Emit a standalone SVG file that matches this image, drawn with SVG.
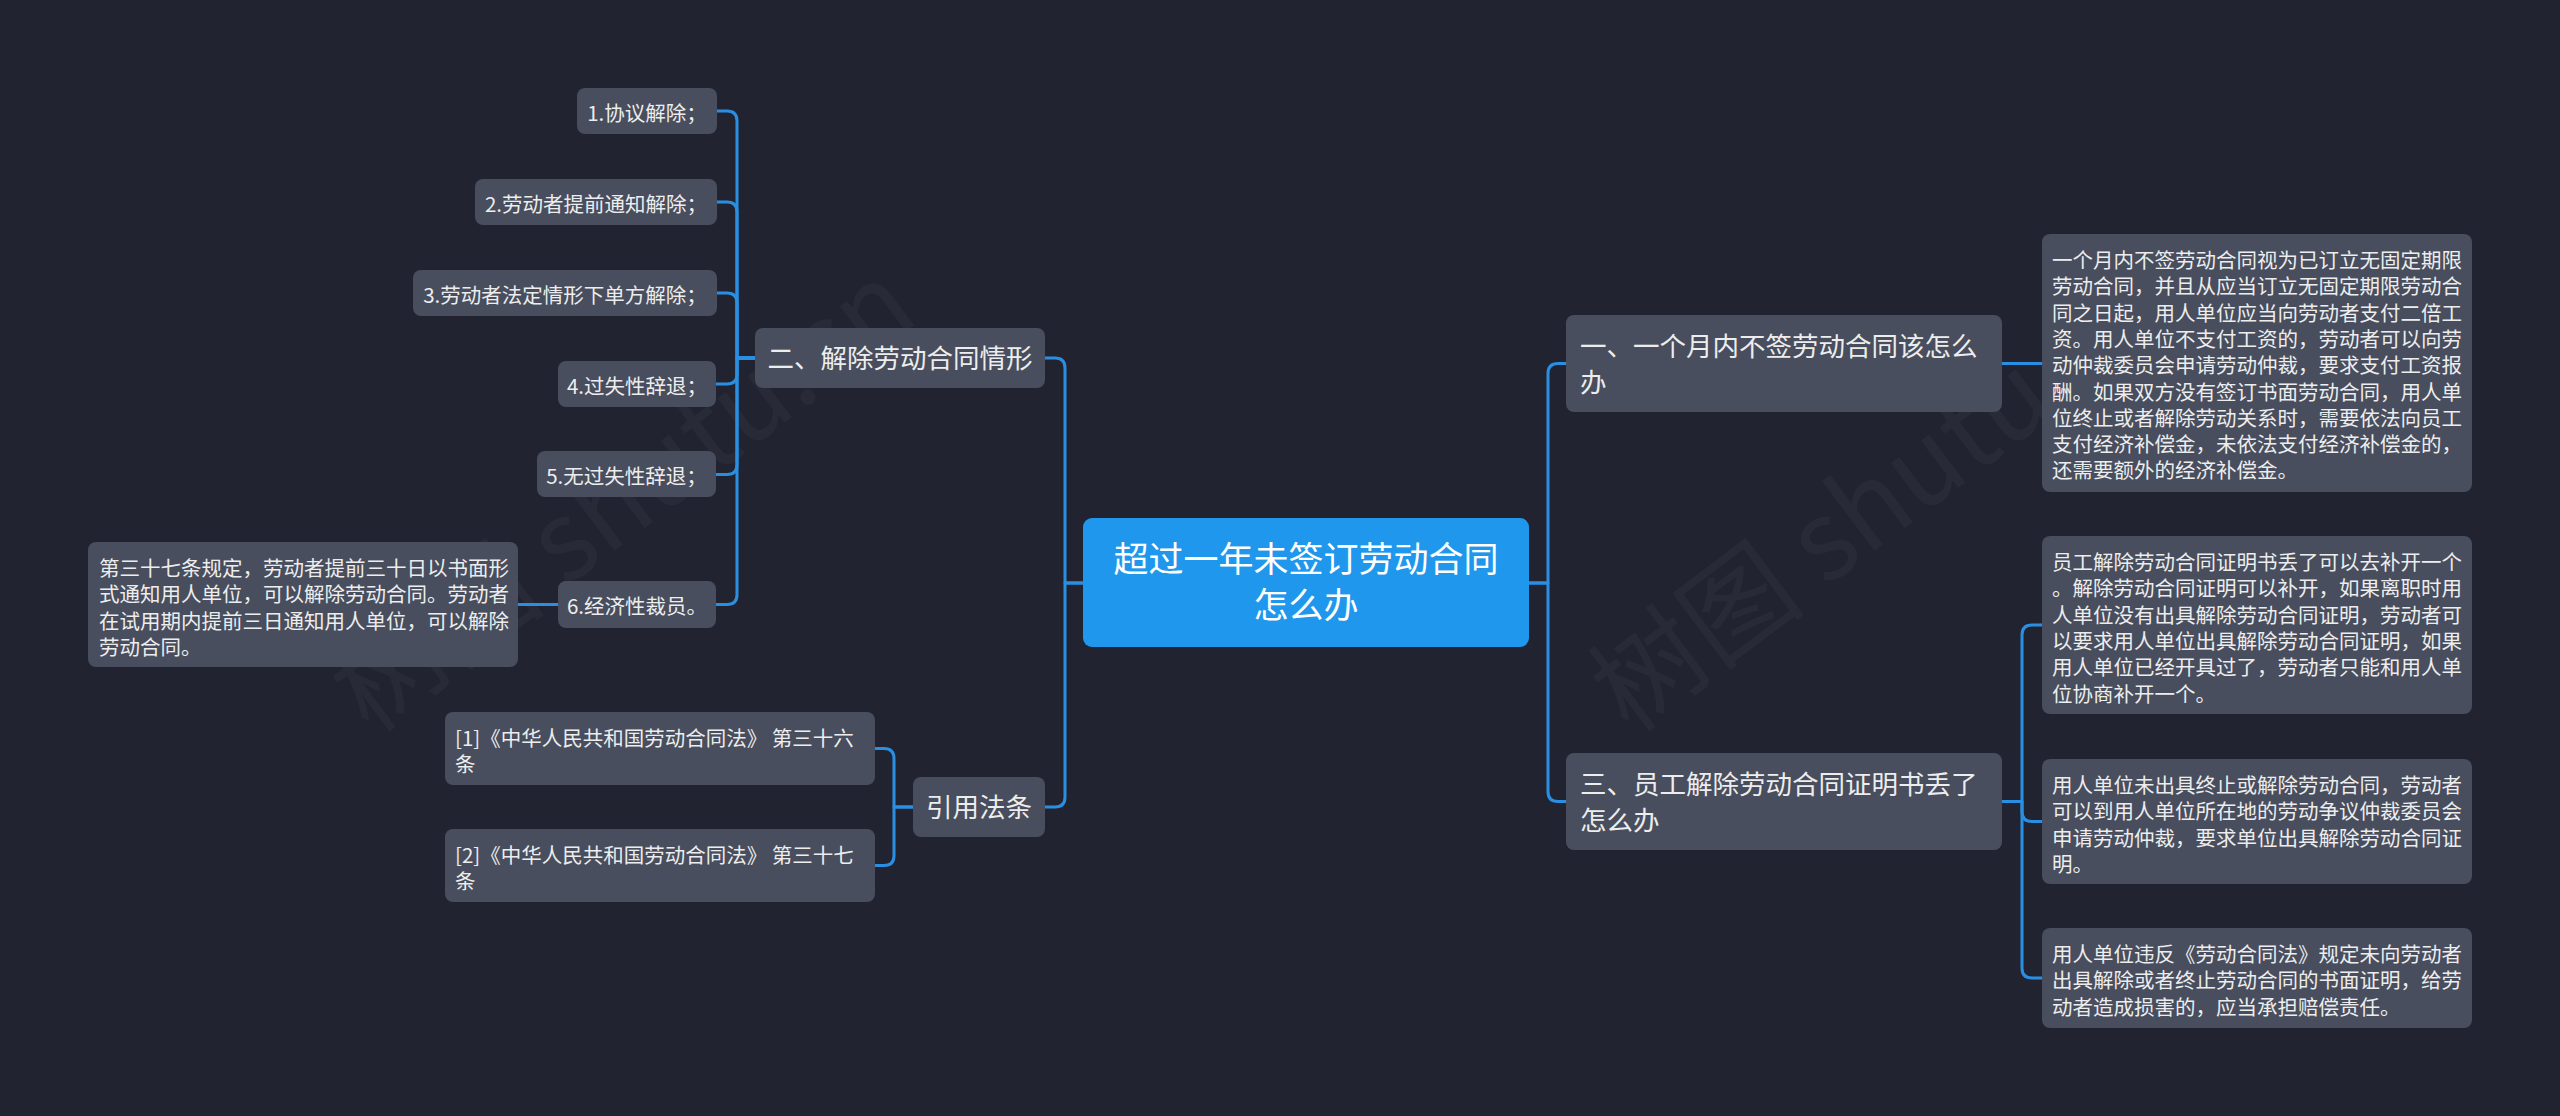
<svg xmlns="http://www.w3.org/2000/svg" width="2560" height="1116" viewBox="0 0 2560 1116">
<style>
.bg{fill:#212430}
.box{fill:#484e5d}
.root{fill:#1e97ec}
.t{fill:#ededed;font-family:"Noto Sans CJK SC","Noto Sans",sans-serif}
.s{font-size:20.5px}
.m{font-size:26.5px}
.r{font-size:35px;fill:#ffffff}
.c{text-anchor:middle}
.conn path{fill:none;stroke:#2a8fe3;stroke-width:3;stroke-linecap:round;stroke-linejoin:round}
.wm{font-family:"Noto Sans CJK SC","Noto Sans",sans-serif;font-size:110px;fill:#ffffff;opacity:0.03}
</style>
<rect class="bg" x="0" y="0" width="2560" height="1116"/>
<g id="watermarks">
<text class="wm" transform="translate(370,735) rotate(-37)">树图 shutu.cn</text>
<text class="wm" transform="translate(1630,735) rotate(-37)">树图 shutu.cn</text>
</g>
<g id="connectors" class="conn">
<path d="M1083,583 H1065 V368 Q1065,358 1055,358 H1045"/>
<path d="M1083,583 H1065 V797 Q1065,807 1055,807 H1045"/>
<path d="M1529,583 H1548 V373.5 Q1548,363.5 1558,363.5 H1566"/>
<path d="M1529,583 H1548 V791.5 Q1548,801.5 1558,801.5 H1566"/>
<path d="M755,358 H737 V121 Q737,111 727,111 H717"/>
<path d="M755,358 H737 V212 Q737,202 727,202 H717"/>
<path d="M755,358 H737 V303 Q737,293 727,293 H717"/>
<path d="M755,358 H737 V374 Q737,384 727,384 H716"/>
<path d="M755,358 H737 V464.5 Q737,474.5 727,474.5 H716"/>
<path d="M755,358 H737 V594.5 Q737,604.5 727,604.5 H716"/>
<path d="M558,604.5 H518"/>
<path d="M913,807 H894 V758.5 Q894,748.5 884,748.5 H875"/>
<path d="M913,807 H894 V855.5 Q894,865.5 884,865.5 H875"/>
<path d="M2002,363.5 H2042"/>
<path d="M2002,801.5 H2022 V635 Q2022,625 2032,625 H2042"/>
<path d="M2002,801.5 H2022 V811.5 Q2022,821.5 2032,821.5 H2042"/>
<path d="M2002,801.5 H2022 V968 Q2022,978 2032,978 H2042"/>
</g>
<g id="root">
<rect class="root" x="1083" y="518" width="446" height="129" rx="9"/>
<text class="t r c" x="1306" y="572">超过一年未签订劳动合同</text>
<text class="t r c" x="1306" y="618">怎么办</text>
</g>
<g id="n2">
<rect class="box" x="755" y="328" width="290" height="60" rx="8"/>
<text class="t m c" x="900" y="368">二、解除劳动合同情形</text>
</g>
<g id="n2-1">
<rect class="box" x="577" y="88" width="140" height="46" rx="8"/>
<text class="t s c" x="647" y="120.5">1.协议解除；</text>
</g>
<g id="n2-2">
<rect class="box" x="475" y="179" width="242" height="46" rx="8"/>
<text class="t s c" x="596" y="211.5">2.劳动者提前通知解除；</text>
</g>
<g id="n2-3">
<rect class="box" x="413" y="270" width="304" height="46" rx="8"/>
<text class="t s c" x="565" y="302.5">3.劳动者法定情形下单方解除；</text>
</g>
<g id="n2-4">
<rect class="box" x="558" y="361" width="158" height="46" rx="8"/>
<text class="t s c" x="637" y="393.5">4.过失性辞退；</text>
</g>
<g id="n2-5">
<rect class="box" x="537" y="451" width="179" height="46" rx="8"/>
<text class="t s c" x="626.5" y="484">5.无过失性辞退；</text>
</g>
<g id="n2-6">
<rect class="box" x="558" y="581" width="158" height="47" rx="8"/>
<text class="t s c" x="637" y="614">6.经济性裁员。</text>
</g>
<g id="n2-6-note">
<rect class="box" x="88" y="542" width="430" height="125" rx="8"/>
<text class="t s" x="99" y="576">第三十七条规定，劳动者提前三十日以书面形</text>
<text class="t s" x="99" y="602.3">式通知用人单位，可以解除劳动合同。劳动者</text>
<text class="t s" x="99" y="628.6">在试用期内提前三日通知用人单位，可以解除</text>
<text class="t s" x="99" y="654.9">劳动合同。</text>
</g>
<g id="n4">
<rect class="box" x="913" y="777" width="132" height="60" rx="8"/>
<text class="t m c" x="979" y="817">引用法条</text>
</g>
<g id="n4-1">
<rect class="box" x="445" y="712" width="430" height="73" rx="8"/>
<text class="t s" x="455" y="746">[1]《中华人民共和国劳动合同法》 第三十六</text>
<text class="t s" x="455" y="772.3">条</text>
</g>
<g id="n4-2">
<rect class="box" x="445" y="829" width="430" height="73" rx="8"/>
<text class="t s" x="455" y="863">[2]《中华人民共和国劳动合同法》 第三十七</text>
<text class="t s" x="455" y="889.3">条</text>
</g>
<g id="n1">
<rect class="box" x="1566" y="315" width="436" height="97" rx="8"/>
<text class="t m" x="1580" y="355.5">一、一个月内不签劳动合同该怎么</text>
<text class="t m" x="1580" y="391.5">办</text>
</g>
<g id="n1-1">
<rect class="box" x="2042" y="234" width="430" height="258" rx="8"/>
<text class="t s" x="2052" y="268">一个月内不签劳动合同视为已订立无固定期限</text>
<text class="t s" x="2052" y="294.3">劳动合同，并且从应当订立无固定期限劳动合</text>
<text class="t s" x="2052" y="320.6">同之日起，用人单位应当向劳动者支付二倍工</text>
<text class="t s" x="2052" y="346.9">资。用人单位不支付工资的，劳动者可以向劳</text>
<text class="t s" x="2052" y="373.2">动仲裁委员会申请劳动仲裁，要求支付工资报</text>
<text class="t s" x="2052" y="399.5">酬。如果双方没有签订书面劳动合同，用人单</text>
<text class="t s" x="2052" y="425.8">位终止或者解除劳动关系时，需要依法向员工</text>
<text class="t s" x="2052" y="452.1">支付经济补偿金，未依法支付经济补偿金的，</text>
<text class="t s" x="2052" y="478.4">还需要额外的经济补偿金。</text>
</g>
<g id="n3">
<rect class="box" x="1566" y="753" width="436" height="97" rx="8"/>
<text class="t m" x="1580" y="793.5">三、员工解除劳动合同证明书丢了</text>
<text class="t m" x="1580" y="829.5">怎么办</text>
</g>
<g id="n3-1">
<rect class="box" x="2042" y="536" width="430" height="178" rx="8"/>
<text class="t s" x="2052" y="570">员工解除劳动合同证明书丢了可以去补开一个</text>
<text class="t s" x="2052" y="596.3">。解除劳动合同证明可以补开，如果离职时用</text>
<text class="t s" x="2052" y="622.6">人单位没有出具解除劳动合同证明，劳动者可</text>
<text class="t s" x="2052" y="648.9">以要求用人单位出具解除劳动合同证明，如果</text>
<text class="t s" x="2052" y="675.2">用人单位已经开具过了，劳动者只能和用人单</text>
<text class="t s" x="2052" y="701.5">位协商补开一个。</text>
</g>
<g id="n3-2">
<rect class="box" x="2042" y="759" width="430" height="125" rx="8"/>
<text class="t s" x="2052" y="793">用人单位未出具终止或解除劳动合同，劳动者</text>
<text class="t s" x="2052" y="819.3">可以到用人单位所在地的劳动争议仲裁委员会</text>
<text class="t s" x="2052" y="845.6">申请劳动仲裁，要求单位出具解除劳动合同证</text>
<text class="t s" x="2052" y="871.9">明。</text>
</g>
<g id="n3-3">
<rect class="box" x="2042" y="928" width="430" height="100" rx="8"/>
<text class="t s" x="2052" y="962">用人单位违反《劳动合同法》规定未向劳动者</text>
<text class="t s" x="2052" y="988.3">出具解除或者终止劳动合同的书面证明，给劳</text>
<text class="t s" x="2052" y="1014.6">动者造成损害的，应当承担赔偿责任。</text>
</g>
</svg>
